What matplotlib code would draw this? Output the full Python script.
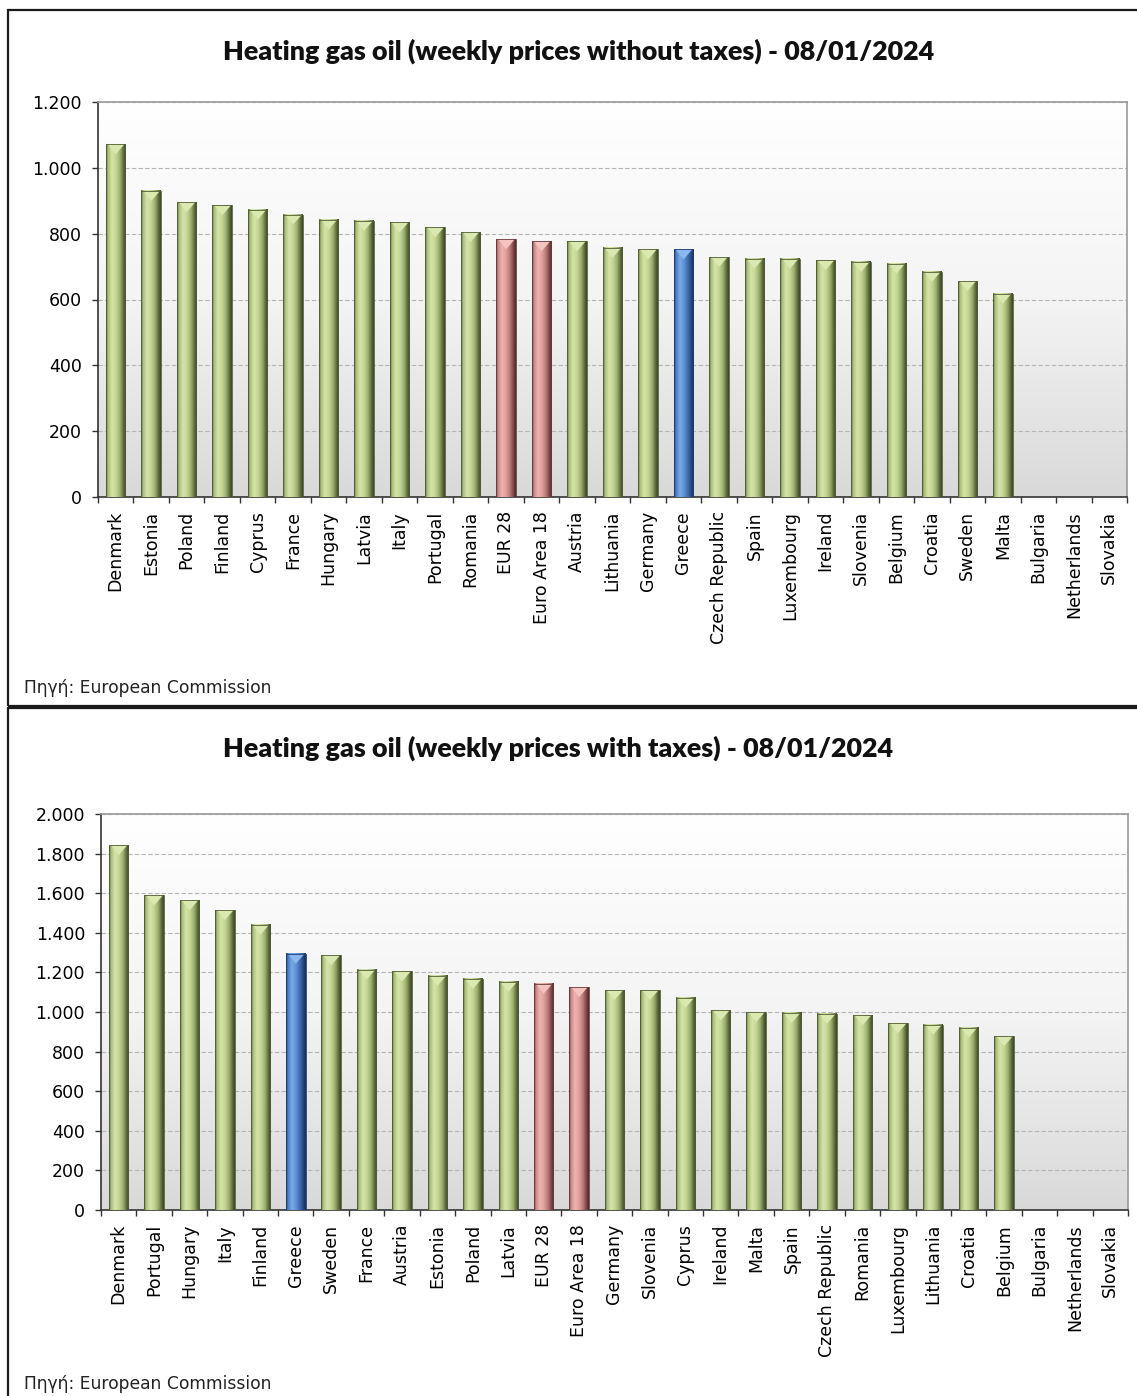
import numpy as np
import matplotlib
matplotlib.use("Agg")
import matplotlib.pyplot as plt
from matplotlib.colors import LinearSegmentedColormap
from matplotlib.patches import Rectangle, Polygon
from matplotlib.ticker import FuncFormatter, MultipleLocator, FixedLocator

# ---------------- data ----------------
countries_no_tax = ["Denmark", "Estonia", "Poland", "Finland", "Cyprus", "France", "Hungary",
                    "Latvia", "Italy", "Portugal", "Romania", "EUR 28", "Euro Area 18", "Austria",
                    "Lithuania", "Germany", "Greece", "Czech Republic", "Spain", "Luxembourg",
                    "Ireland", "Slovenia", "Belgium", "Croatia", "Sweden", "Malta", "Bulgaria",
                    "Netherlands", "Slovakia"]
prices_no_tax = [1072, 930, 896, 886, 873, 858, 843, 839, 834, 819, 805, 783, 777, 777,
                 757, 752, 752, 729, 724, 724, 719, 714, 709, 684, 656, 618,
                 np.nan, np.nan, np.nan]

countries_tax = ["Denmark", "Portugal", "Hungary", "Italy", "Finland", "Greece", "Sweden",
                 "France", "Austria", "Estonia", "Poland", "Latvia", "EUR 28", "Euro Area 18",
                 "Germany", "Slovenia", "Cyprus", "Ireland", "Malta", "Spain", "Czech Republic",
                 "Romania", "Luxembourg", "Lithuania", "Croatia", "Belgium", "Bulgaria",
                 "Netherlands", "Slovakia"]
prices_tax = [1843, 1589, 1564, 1515, 1441, 1294, 1286, 1214, 1205, 1183, 1167, 1152, 1143,
              1126, 1111, 1111, 1071, 1008, 1000, 995, 991, 983, 943, 936, 921, 878,
              np.nan, np.nan, np.nan]

title_no_tax = "Heating gas oil (weekly prices without taxes) - 08/01/2024"
title_tax = "Heating gas oil (weekly prices with taxes) - 08/01/2024"
source_text = "Πηγή: European Commission"

# ---------------- styling ----------------
W, H = 1137, 1396
fig = plt.figure(figsize=(W / 100, H / 100), dpi=100)
fig.patch.set_facecolor("white")

cmaps = {
    "green": LinearSegmentedColormap.from_list("g", [(0, "#4e5c33"), (0.1, "#a9bd7a"), (0.3, "#d5e5a8"),
                                                     (0.5, "#c4d694"), (0.7, "#9fb171"), (0.88, "#5d6b3c"),
                                                     (1, "#3a4424")]),
    "red": LinearSegmentedColormap.from_list("r", [(0, "#6b3a3a"), (0.1, "#c98888"), (0.3, "#f0b4b0"),
                                                   (0.5, "#e0a09c"), (0.7, "#b97a77"), (0.88, "#7a4444"),
                                                   (1, "#4c2828")]),
    "blue": LinearSegmentedColormap.from_list("b", [(0, "#1e3c6e"), (0.1, "#4a7cc0"), (0.3, "#7aaae6"),
                                                    (0.5, "#5f92d6"), (0.7, "#3e6bb0"), (0.88, "#24467e"),
                                                    (1, "#152c52")]),
}
cap_colors = {"green": "#dbe8b0", "red": "#f4c4c0", "blue": "#8ab8ee"}
bg_cmap = LinearSegmentedColormap.from_list("bg", ["#d9d9d9", "#f4f4f4", "#ffffff"])


def color_key(name):
    if name == "Greece":
        return "blue"
    if name in ("EUR 28", "Euro Area 18"):
        return "red"
    return "green"


def thousands(v, _):
    return f"{int(round(v)):,}".replace(",", ".")


def draw_panel(rect_px, cats, vals, ymax, ystep, title, title_xy, source_xy):
    left, top, right, bottom = rect_px
    ax = fig.add_axes([left / W, 1 - bottom / H, (right - left) / W, (bottom - top) / H])
    n = len(cats)
    x = np.arange(n)
    bars = ax.bar(x, vals, width=0.55, color="none", edgecolor="none", zorder=3)
    ax.set_xlim(-0.5, n - 0.5)
    ax.set_ylim(0, ymax)

    # background gradient
    grad_v = np.linspace(0, 1, 256).reshape(-1, 1)
    ax.patch.set_facecolor("none")
    ax.imshow(grad_v, cmap=bg_cmap, aspect="auto", extent=(0, 1, 0, 1), origin="lower",
              transform=ax.transAxes, zorder=0)

    # bar shading
    grad_h = np.linspace(0, 1, 256).reshape(1, -1)
    cap = 10 / (bottom - top) * ymax
    for b, name in zip(bars, cats):
        h = b.get_height()
        if not np.isfinite(h) or h <= 0:
            continue
        key = color_key(name)
        x0, w = b.get_x(), b.get_width()
        ax.imshow(grad_h, cmap=cmaps[key], aspect="auto", extent=(x0, x0 + w, 0, h),
                  interpolation="bilinear", zorder=3)
        ax.add_patch(Polygon([(x0 + 0.1 * w, h), (x0 + w * 0.95, h), (x0 + w / 2, h - cap)],
                             closed=True, facecolor=cap_colors[key], edgecolor="none", zorder=4))
        ax.add_patch(Rectangle((x0, 0), w, h, fill=False, edgecolor=cmaps[key](0.92), lw=0.6, zorder=5))
    ax.set_xlim(-0.5, n - 0.5)
    ax.set_ylim(0, ymax)

    # grid
    ax.yaxis.set_major_locator(MultipleLocator(ystep))
    ax.yaxis.set_major_formatter(FuncFormatter(thousands))
    ax.yaxis.grid(True, linestyle=(0, (4, 2)), color="#b5b5b5", lw=0.8)
    ax.set_axisbelow(True)

    # spines
    for s in ("top", "right"):
        ax.spines[s].set_color("#9a9a9a")
        ax.spines[s].set_linewidth(1.2)
    for s in ("left", "bottom"):
        ax.spines[s].set_color("#333333")
        ax.spines[s].set_linewidth(1.2)

    ax.set_xticks(x)
    ax.set_xticklabels(cats, rotation=90, fontsize=12.5, family="DejaVu Sans")
    ax.xaxis.set_minor_locator(FixedLocator(np.arange(-0.5, n, 1.0)))
    ax.tick_params(axis="x", which="major", length=0, pad=10)
    ax.tick_params(axis="x", which="minor", length=4.5, width=1, color="#333333", direction="out")
    ax.tick_params(axis="y", which="major", length=4.5, width=1, color="#333333", direction="out",
                   pad=7, labelsize=12.5)

    t = fig.text(title_xy[0] / W, 1 - title_xy[1] / H, title, ha="center", va="center",
                 fontsize=18, fontweight="heavy", family=["Lato", "DejaVu Sans"], color="#111111")
    r = fig.canvas.get_renderer()
    bw = t.get_window_extent(r).width
    t.set_fontsize(18 * title_xy[2] / bw)

    fig.text(source_xy[0] / W, 1 - source_xy[1] / H, source_text, ha="left", va="center",
             fontsize=12.3, family="DejaVu Sans", color="#222222")
    return ax


# panel frames
fig.add_artist(Rectangle((8 / W, 1 - 706 / H), (1145 - 8) / W, (706 - 10) / H,
                         transform=fig.transFigure, fill=False, edgecolor="#1a1a1a", lw=1.6))
fig.add_artist(Rectangle((8 / W, 1 - 1410 / H), (1145 - 8) / W, (1410 - 708) / H,
                         transform=fig.transFigure, fill=False, edgecolor="#1a1a1a", lw=1.6))

draw_panel((98, 102, 1127, 497), countries_no_tax, prices_no_tax, 1200, 200,
           title_no_tax, (579, 51, 714), (24, 688))
draw_panel((101, 814, 1128, 1210), countries_tax, prices_tax, 2000, 200,
           title_tax, (558, 748, 672), (24, 1384))

fig.savefig("out.png", dpi=100, facecolor="white")
